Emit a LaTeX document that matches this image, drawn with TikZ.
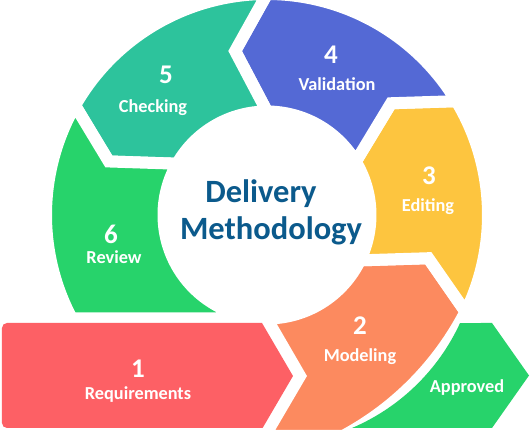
\documentclass[tikz,border=0pt]{standalone}
\usepackage{fontspec}
\setmainfont{Carlito}
\usepackage{tikz}
\definecolor{segReq}{HTML}{FD6065}
\definecolor{segModel}{HTML}{FC8A5F}
\definecolor{segEdit}{HTML}{FDC53F}
\definecolor{segValid}{HTML}{5469D5}
\definecolor{segCheck}{HTML}{2DC39C}
\definecolor{segReview}{HTML}{27D36B}
\definecolor{titleBlue}{HTML}{0B5A8C}
\def\Ro{221}
\def\Ri{103.5}
\def\Rm{167}
\tikzset{
  ring/.style={draw=white, line width=12pt, line join=miter},
  num/.style={text=white, font=\bfseries\fontsize{27}{32}\selectfont, inner sep=0pt, anchor=base},
  lbl/.style={text=white, font=\bfseries\fontsize{18.3}{22}\selectfont, inner sep=0pt, anchor=base},
  head/.style={text=titleBlue, font=\bfseries\fontsize{32.5}{38}\selectfont, inner sep=0pt, anchor=base}
}

\begin{document}
\begin{tikzpicture}[x=1pt, y=1pt]
  \path[fill=white, use as bounding box] (-267,-215) rectangle (263,215);

  % ring segments (white outline leaves the gaps)
  \path[ring, fill=segModel] (-90.2:\Ri) -- (33,-161) -- (-2.2,-221) -- (76,-221)
    arc[start angle=-61.8, end angle=-27.4, radius=295] -- (-15:\Rm) -- (-26:\Ri)
    arc[start angle=-26, end angle=-90.2, radius=\Ri] -- cycle;
  \path[ring, fill=segEdit] (-26:\Ro) -- (-15:\Rm) -- (-26:\Ri)
    arc[start angle=-26, end angle=31, radius=\Ri] -- (42:\Rm) -- (31:\Ro)
    arc[start angle=31, end angle=-26, radius=\Ro] -- cycle;
  \path[ring, fill=segValid] (31:\Ro) -- (42:\Rm) -- (31:\Ri)
    arc[start angle=31, end angle=90, radius=\Ri] -- (101:\Rm) -- (90:\Ro)
    arc[start angle=90, end angle=31, radius=\Ro] -- cycle;
  \path[ring, fill=segCheck] (90:\Ro) -- (101:\Rm) -- (90:\Ri)
    arc[start angle=90, end angle=150.3, radius=\Ri] -- (161.3:\Rm) -- (150.3:\Ro)
    arc[start angle=150.3, end angle=90, radius=\Ro] -- cycle;
  \path[ring, fill=segReview] (150.3:\Ro) -- (161.3:\Rm) -- (150.3:\Ri)
    arc[start angle=150.3, end angle=270, radius=\Ri] -- (207.9:\Ro)
    arc[start angle=207.9, end angle=150.3, radius=\Ro] -- cycle;

  % straight arrows at the bottom
  \path[fill=segReq] (-5,-108) -- (26,-161) -- (-4.4,-213) -- (-260,-213)
    arc[start angle=270, end angle=180, radius=5] -- (-265,-113)
    arc[start angle=180, end angle=90, radius=5] -- cycle;
  \path[fill=segReview] (85,-213) arc[start angle=-66.9, end angle=-24.75, radius=209.5]
    -- (225,-108) -- (262,-160.5) -- (225,-213) -- cycle;

  % labels
  \node[num] (n1) at (-129,-163) {1};
  \node[lbl] (req) at (-129,-185) {Requirements};
  \node[num] (n2) at (93,-120) {2};
  \node[lbl] (model) at (93,-146.7) {Modeling};
  \node[num] (n3) at (162,30) {3};
  \node[lbl] (edit) at (161,3) {Editing};
  \node[num] (n4) at (64,151.7) {4};
  \node[lbl] (valid) at (70,124.3) {Validation};
  \node[num] (n5) at (-101,131.7) {5};
  \node[lbl] (check) at (-114,102) {Checking};
  \node[num] (n6) at (-156,-28.3) {6};
  \node[lbl] (review) at (-153,-49) {Review};
  \node[lbl] (ok) at (200,-178) {Approved};

  % centre title
  \node[head] (title1) at (-6,12) {Delivery};
  \node[head] (title2) at (4,-25) {Methodology};
\end{tikzpicture}
\end{document}
